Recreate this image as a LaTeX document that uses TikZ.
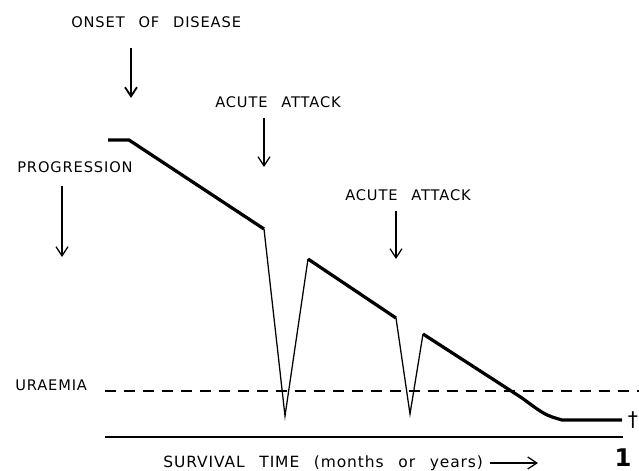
\documentclass[tikz,border=0pt]{standalone}
\usepackage{fontspec}
\newfontfamily\letterfont[LetterSpace=6, WordSpace=2.5]{DejaVu Sans}
\usetikzlibrary{arrows.meta,positioning}

\begin{document}
\begin{tikzpicture}[
    x=0.025cm, y=-0.025cm,
    lettering/.style={font=\letterfont\fontsize{10.4}{12}\selectfont, inner sep=0pt, anchor=west},
    marker/.style={-{Straight Barb[length=6.5pt,width=8.5pt]}, line width=0.9pt},
    course/.style={line width=2.3pt, line join=miter},
    spike/.style={line width=0.9pt},
]
    \useasboundingbox (0,0) rectangle (639,471);

    % labels
    \node[lettering] (onset) at (71,22) {ONSET OF DISEASE};
    \node[lettering] (attackA) at (215,102) {ACUTE ATTACK};
    \node[lettering] (attackB) at (345,195) {ACUTE ATTACK};
    \node[lettering] (progress) at (17,167) {PROGRESSION};
    \node[lettering] (uraemia) at (15,385) {URAEMIA};
    \node[lettering, font=\letterfont\fontsize{11}{13}\selectfont] (survival) at (163,463) {SURVIVAL TIME (months or years)};
    \node[font=\letterfont\Large, inner sep=0pt] (dagger) at (633,420) {†};
    \node[font=\letterfont\bfseries\LARGE, inner sep=0pt] (fignum) at (623,458) {1};

    % arrow ends
    \coordinate (onsetA) at (131,48);   \coordinate (onsetB) at (131,98);
    \coordinate (attackA1) at (264,118); \coordinate (attackA2) at (264,167);
    \coordinate (attackB1) at (396,211); \coordinate (attackB2) at (396,259);
    \coordinate (progA) at (62,186);    \coordinate (progB) at (62,257);
    \coordinate (survTip) at (538,463);

    \draw[marker, line width=1.3pt] (onsetA) -- (onsetB);
    \draw[marker] (attackA1) -- (attackA2);
    \draw[marker] (attackB1) -- (attackB2);
    \draw[marker] (progA) -- (progB);
    \draw[marker] ([xshift=5pt]survival.east) -- (survTip);

    % course of the disease
    \coordinate (c0) at (108,140);
    \coordinate (c1) at (129,140);
    \coordinate (c2) at (264,229);
    \coordinate (c3) at (285,416);
    \coordinate (c4) at (308,259);
    \coordinate (c5) at (396,318);
    \coordinate (c6) at (410,414);
    \coordinate (c7) at (423,334);
    \coordinate (c8) at (522,398);
    \coordinate (c9) at (562,420);
    \coordinate (c10) at (622,420);

    \draw[course] (c0) -- (c1) -- (c2);
    \draw[spike] (c2) -- (c3) -- (c4);
    \draw[course] (c4) -- (c5);
    \draw[spike] (c5) -- (c6) -- (c7);
    \draw[course] (c7) -- (c8) .. controls (545,415) .. (c9) -- (c10);

    % uraemia level and time axis
    \coordinate (uraemiaEnd) at (639,391);
    \draw[line width=1pt, dash pattern=on 8pt off 5.5pt] (105,391) -- (uraemiaEnd);
    \coordinate (axisA) at (105,437); \coordinate (axisB) at (623,437);
    \draw[line width=1pt] (axisA) -- (axisB);
\end{tikzpicture}
\end{document}
